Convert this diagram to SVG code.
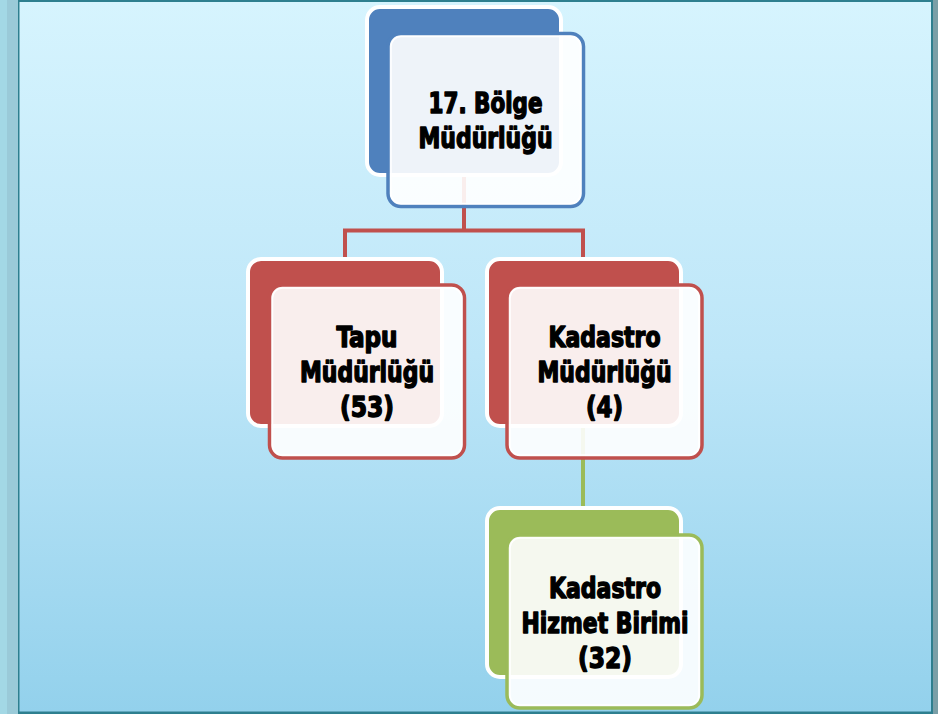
<svg xmlns="http://www.w3.org/2000/svg" width="938" height="714" viewBox="0 0 938 714">
<defs>
<linearGradient id="bg" x1="0" y1="0" x2="0" y2="1">
<stop offset="0" stop-color="#d6f4fe"/>
<stop offset="0.5" stop-color="#bde6f8"/>
<stop offset="1" stop-color="#93d1ec"/>
</linearGradient>
<style>
.back{stroke:#ffffff;stroke-width:4}
.front{fill:#ffffff;fill-opacity:0.9;stroke-width:3.5}
.inner{fill:none;stroke:#ffffff;stroke-width:1.5}
.blue .back{fill:#4f81bd}.blue .front{stroke:#4f81bd}
.red .back{fill:#c0504d}.red .front{stroke:#c0504d}
.green .back{fill:#9bbb59}.green .front{stroke:#9bbb59}
.lbl{font-family:"DejaVu Sans Condensed","DejaVu Sans",sans-serif;font-weight:bold;font-size:28px;fill:#000;stroke:#000;stroke-width:1.4;stroke-linejoin:round;text-anchor:middle}
.conn{fill:none;stroke-width:4}
</style>
</defs>
<g id="frame">
<rect x="0" y="0" width="938" height="714" fill="#a3d8e5"/>
<rect x="7" y="0" width="11" height="714" fill="#9acad8"/>
<rect x="933" y="0" width="5" height="714" fill="#7a9fa7"/>
<rect x="18" y="0" width="915" height="714" fill="#2e7f8f"/>
<rect x="19.5" y="2" width="911.5" height="709.5" fill="url(#bg)"/>
</g>
<g id="connectors">
<path class="conn" stroke="#c0504d" d="M464 175 V230.5 M345 259 V230.5 H583 V259"/>
<path class="conn" stroke="#9bbb59" d="M583 426 V508"/>
</g>
<g id="node-bolge" class="blue">
<rect class="back" x="367" y="7" width="194" height="168" rx="13"/>
<rect class="front" x="388" y="33.5" width="195.5" height="173" rx="13"/>
<rect class="inner" x="391" y="36.5" width="189.5" height="167" rx="10"/>
<text class="lbl" x="485.5" y="113" textLength="114" lengthAdjust="spacingAndGlyphs">17. Bölge</text>
<text class="lbl" x="485.5" y="148" textLength="134" lengthAdjust="spacingAndGlyphs">Müdürlüğü</text>
</g>
<g id="node-tapu" class="red">
<rect class="back" x="248" y="259" width="194" height="167" rx="13"/>
<rect class="front" x="269.5" y="285" width="195" height="173" rx="13"/>
<rect class="inner" x="272.5" y="288" width="189" height="167" rx="10"/>
<text class="lbl" x="367" y="347" textLength="61" lengthAdjust="spacingAndGlyphs">Tapu</text>
<text class="lbl" x="367" y="382" textLength="134" lengthAdjust="spacingAndGlyphs">Müdürlüğü</text>
<text class="lbl" x="367" y="417" textLength="54" lengthAdjust="spacingAndGlyphs">(53)</text>
</g>
<g id="node-kadastro" class="red">
<rect class="back" x="487" y="259" width="194" height="167" rx="13"/>
<rect class="front" x="507" y="285" width="195" height="173" rx="13"/>
<rect class="inner" x="510" y="288" width="189" height="167" rx="10"/>
<text class="lbl" x="604.5" y="347" textLength="112" lengthAdjust="spacingAndGlyphs">Kadastro</text>
<text class="lbl" x="604.5" y="382" textLength="134" lengthAdjust="spacingAndGlyphs">Müdürlüğü</text>
<text class="lbl" x="604.5" y="417" textLength="37" lengthAdjust="spacingAndGlyphs">(4)</text>
</g>
<g id="node-hizmet" class="green">
<rect class="back" x="487" y="508" width="194" height="169" rx="13"/>
<rect class="front" x="507" y="535" width="195" height="173" rx="13"/>
<rect class="inner" x="510" y="538" width="189" height="167" rx="10"/>
<text class="lbl" x="605" y="598" textLength="112" lengthAdjust="spacingAndGlyphs">Kadastro</text>
<text class="lbl" x="605" y="633" textLength="167" lengthAdjust="spacingAndGlyphs">Hizmet Birimi</text>
<text class="lbl" x="605" y="668" textLength="54" lengthAdjust="spacingAndGlyphs">(32)</text>
</g>
</svg>
